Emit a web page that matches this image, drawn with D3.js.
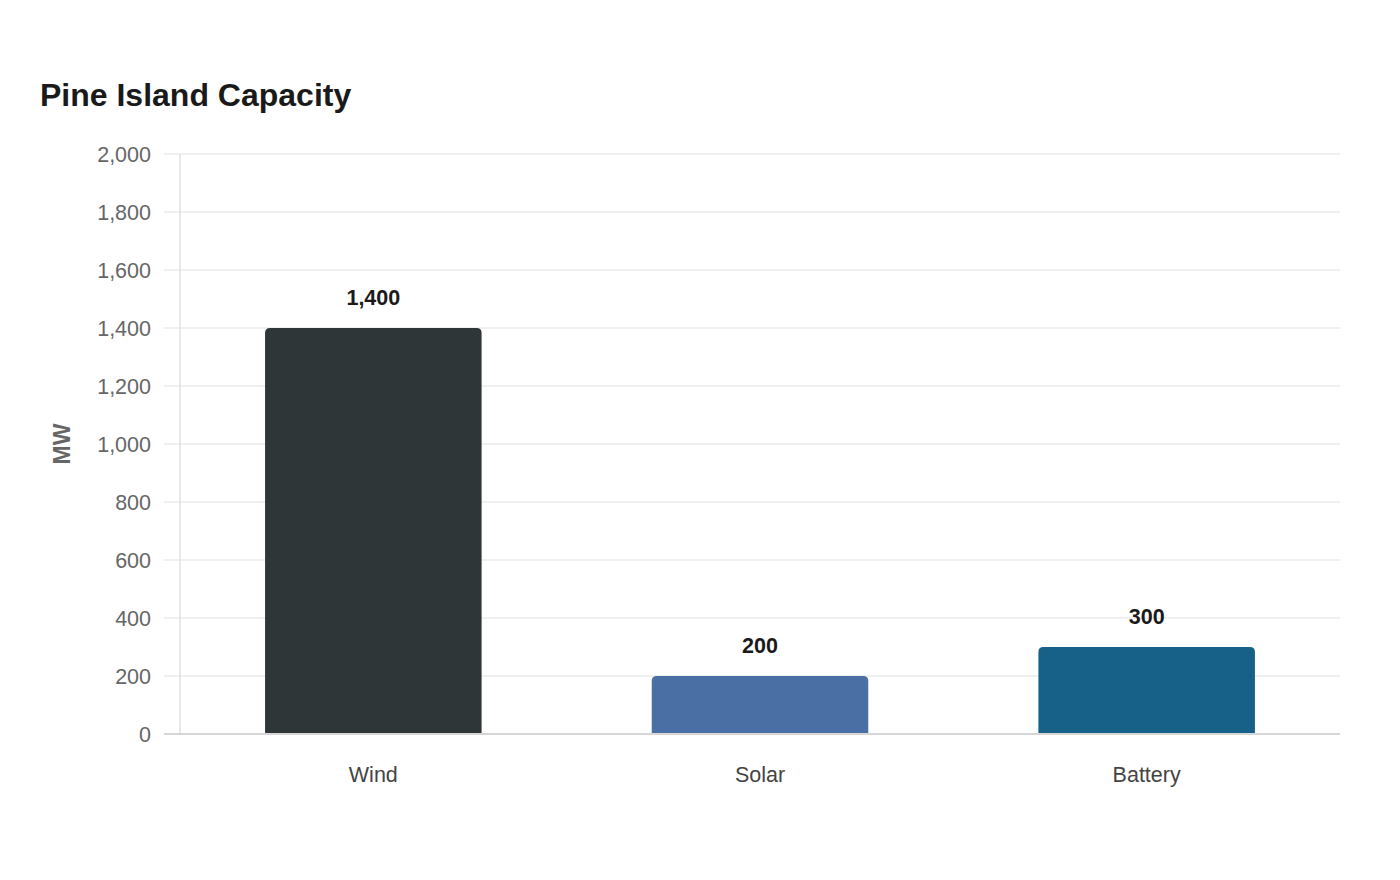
<!DOCTYPE html>
<html>
<head>
<meta charset="utf-8">
<script src="https://cdn.jsdelivr.net/npm/d3@7"></script>
<style>
  html, body { margin: 0; padding: 0; background: #fff; }
  svg { display: block; font-family: "Liberation Sans", Arial, sans-serif; }
</style>
</head>
<body>
<svg id="chart" width="1400" height="880"></svg>
<script>
// Chart data
const categories = ["Wind", "Solar", "Battery"];
const capacityMW = [1400, 200, 300];
const barColors = ["#2e3638", "#4a6fa5", "#176087"];
const yTicks = [0, 200, 400, 600, 800, 1000, 1200, 1400, 1600, 1800, 2000];

const width = 1400;
const height = 880;
const margin = { top: 154, right: 60, bottom: 146, left: 180 };

const svg = d3.select("#chart");

// Scales
const x = d3.scaleBand()
  .domain(categories)
  .range([margin.left, width - margin.right])
  .paddingInner(0.44)
  .paddingOuter(0.22);

const y = d3.scaleLinear()
  .domain([0, 2000])
  .range([height - margin.bottom, margin.top]);

// Title
svg.append("text")
  .attr("x", 40)
  .attr("y", 106)
  .attr("font-size", 32)
  .attr("font-weight", "bold")
  .attr("fill", "#1a1a1a")
  .text("Pine Island Capacity");

// Gridlines
svg.append("g")
  .selectAll("line")
  .data(yTicks)
  .enter()
  .append("line")
  .attr("x1", margin.left - 16)
  .attr("x2", width - margin.right)
  .attr("y1", (d) => y(d))
  .attr("y2", (d) => y(d))
  .attr("stroke", "#ebebeb")
  .attr("stroke-width", 1.5);

// Y axis line
svg.append("line")
  .attr("x1", margin.left)
  .attr("x2", margin.left)
  .attr("y1", margin.top)
  .attr("y2", y(0))
  .attr("stroke", "#e0e0e0")
  .attr("stroke-width", 1.5);

// Y tick labels
svg.append("g")
  .selectAll("text")
  .data(yTicks)
  .enter()
  .append("text")
  .attr("x", 151)
  .attr("y", (d) => y(d))
  .attr("dy", "0.35em")
  .attr("text-anchor", "end")
  .attr("font-size", 21.5)
  .attr("fill", "#666")
  .text((d) => d3.format(",")(d));

// Y axis title
svg.append("text")
  .attr("transform", `translate(70, ${y(1000)}) rotate(-90)`)
  .attr("text-anchor", "middle")
  .attr("font-size", 23)
  .attr("font-weight", "bold")
  .attr("fill", "#666")
  .text("MW");

// Bars with rounded top corners
const r = 5;
const barPath = (d, i) => {
  const x0 = x(categories[i]);
  const x1 = x0 + x.bandwidth();
  const yt = y(d);
  const yb = y(0);
  return `M${x0},${yb} V${yt + r} Q${x0},${yt} ${x0 + r},${yt} H${x1 - r} Q${x1},${yt} ${x1},${yt + r} V${yb} Z`;
};

svg.append("g")
  .selectAll("path")
  .data(capacityMW)
  .enter()
  .append("path")
  .attr("d", barPath)
  .attr("fill", (d, i) => barColors[i]);

// X axis line
svg.append("line")
  .attr("x1", margin.left - 16)
  .attr("x2", width - margin.right)
  .attr("y1", y(0))
  .attr("y2", y(0))
  .attr("stroke", "#d6d6d6")
  .attr("stroke-width", 2);

// Value labels
svg.append("g")
  .selectAll("text")
  .data(capacityMW)
  .enter()
  .append("text")
  .attr("x", (d, i) => x(categories[i]) + x.bandwidth() / 2)
  .attr("y", (d) => y(d) - 23)
  .attr("text-anchor", "middle")
  .attr("font-size", 21.5)
  .attr("font-weight", "bold")
  .attr("fill", "#1a1a1a")
  .text((d) => d3.format(",")(d));

// Category labels
svg.append("g")
  .selectAll("text")
  .data(categories)
  .enter()
  .append("text")
  .attr("x", (d) => x(d) + x.bandwidth() / 2)
  .attr("y", y(0) + 48)
  .attr("text-anchor", "middle")
  .attr("font-size", 21.5)
  .attr("fill", "#444")
  .text((d) => d);
</script>
</body>
</html>
